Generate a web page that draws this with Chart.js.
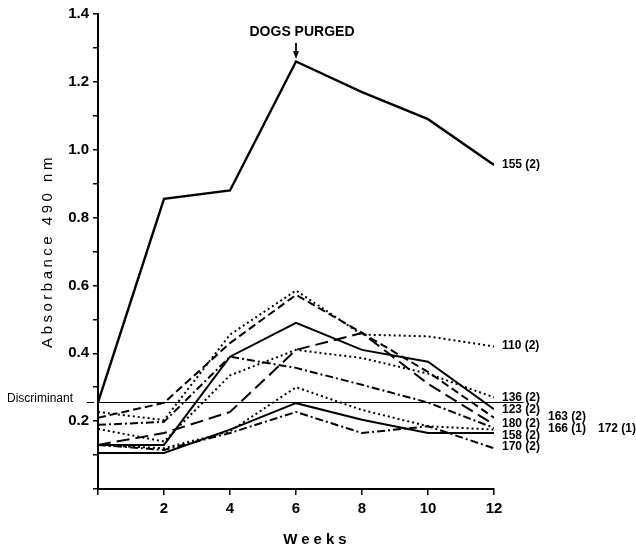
<!DOCTYPE html>
<html>
<head>
<meta charset="utf-8">
<script src="https://cdn.jsdelivr.net/npm/chart.js@4"></script>
<style>
  body { margin: 0; background: #fff; }
  #wrap { width: 636px; height: 551px; }
</style>
</head>
<body>
<div id="wrap"><canvas id="myChart" width="636" height="551"></canvas></div>
<script>
// weeks after infection
var weeks = [0, 2, 4, 6, 8, 10, 12];
var xTickLabels = ['2', '4', '6', '8', '10', '12'];
var yTickLabels = ['0.2', '0.4', '0.6', '0.8', '1.0', '1.2', '1.4'];

// absorbance 490 nm per dog
var dog155 = [0.255, 0.855, 0.88, 1.26, 1.17, 1.09, 0.955];
var dog110 = [0.227, 0.203, 0.455, 0.585, 0.455, 0.45, 0.42];
var dog136 = [0.177, 0.14, 0.335, 0.41, 0.386, 0.34, 0.27];
var dog163 = [0.21, 0.254, 0.43, 0.572, 0.46, 0.345, 0.21];
var dog123 = [0.13, 0.13, 0.39, 0.49, 0.41, 0.375, 0.235];
var dog180 = [0.13, 0.165, 0.227, 0.41, 0.46, 0.31, 0.19];
var dog166 = [0.189, 0.198, 0.39, 0.357, 0.307, 0.255, 0.18];
var dog172 = [0.13, 0.12, 0.17, 0.30, 0.233, 0.185, 0.175];
var dog158 = [0.106, 0.106, 0.175, 0.253, 0.204, 0.165, 0.165];
var dog170 = [0.13, 0.115, 0.165, 0.227, 0.165, 0.185, 0.12];

var discriminant = 0.257;

var FONT = "'Liberation Sans', Arial, Helvetica, sans-serif";
var SOLID = [], DOT = [2, 3], DASH = [8, 4], LONGDASH = [13, 6], DASHDOT = [8, 3, 2, 3];

function series(values, dash, width) {
    return {
        data: values.map(function(v, i) { return { x: weeks[i], y: v }; }),
        borderColor: '#000',
        borderWidth: width || 2,
        borderDash: dash,
        pointRadius: 0,
        tension: 0,
        fill: false
    };
}

// right hand labels: text, value it sits at, column
var endLabels = [
    ['155 (2)', 0.955, 0],
    ['110 (2)', 0.422, 0],
    ['136 (2)', 0.268, 0],
    ['123 (2)', 0.233, 0],
    ['180 (2)', 0.192, 0],
    ['158 (2)', 0.156, 0],
    ['170 (2)', 0.124, 0],
    ['163 (2)', 0.212, 1],
    ['166 (1)', 0.177, 1],
    ['172 (1)', 0.177, 2]
];
var colOffset = [8, 54, 104];

var extras = {
    id: 'extras',
    afterDraw: function(chart) {
        var c = chart.ctx, xs = chart.scales.x, ys = chart.scales.y;
        c.save();
        c.fillStyle = '#000';
        c.strokeStyle = '#000';

        // discriminant line
        var dy = Math.round(ys.getPixelForValue(discriminant)) + 0.5;
        c.lineWidth = 1.2;
        c.beginPath();
        c.moveTo(xs.getPixelForValue(0), dy);
        c.lineTo(xs.getPixelForValue(12.9), dy);
        c.moveTo(87, dy);
        c.lineTo(94, dy);
        c.stroke();
        c.font = '12px ' + FONT;
        c.textAlign = 'left';
        c.textBaseline = 'alphabetic';
        c.fillText('Discriminant', 7, dy - 1);

        // end labels
        c.font = 'bold 12px ' + FONT;
        c.textBaseline = 'middle';
        endLabels.forEach(function(l) {
            c.fillText(l[0], xs.right + colOffset[l[2]], ys.getPixelForValue(l[1]));
        });

        // purge annotation
        var px = xs.getPixelForValue(6);
        c.font = 'bold 14px ' + FONT;
        c.textAlign = 'center';
        c.fillText('DOGS PURGED', px + 6, 32);
        c.lineWidth = 1.8;
        c.beginPath();
        c.moveTo(px, 43);
        c.lineTo(px, 56);
        c.stroke();
        c.beginPath();
        c.moveTo(px - 3, 51);
        c.lineTo(px + 3, 51);
        c.lineTo(px, 59);
        c.closePath();
        c.fill();

        // axis titles
        c.letterSpacing = '4px';
        c.font = 'bold 15px ' + FONT;
        c.fillText('Weeks', 317, 540);
        c.letterSpacing = '3.5px';
        c.font = '15px ' + FONT;
        c.translate(48, 251);
        c.rotate(-Math.PI / 2);
        c.fillText('Absorbance 490 nm', 0, 0);
        c.restore();
    }
};

var ctx = document.getElementById('myChart').getContext('2d');
var myChart = new Chart(ctx, {
    type: 'line',
    data: {
        datasets: [
            series(dog155, SOLID, 2.4),
            series(dog110, DOT),
            series(dog136, DOT),
            series(dog163, DASH),
            series(dog123, SOLID),
            series(dog180, LONGDASH),
            series(dog166, DASHDOT),
            series(dog172, DOT),
            series(dog158, SOLID),
            series(dog170, DASHDOT)
        ]
    },
    options: {
        responsive: false,
        animation: false,
        layout: { padding: { top: 14, right: 142, left: 0, bottom: 0 } },
        plugins: {
            legend: { display: false },
            tooltip: { enabled: false }
        },
        scales: {
            x: {
                type: 'linear',
                min: 0,
                max: 12,
                afterFit: function(s) { s.height = 62; },
                border: { display: true, color: '#000', width: 2 },
                grid: { drawOnChartArea: false, drawTicks: true, tickLength: 6, color: '#000', lineWidth: 1.5 },
                ticks: {
                    stepSize: 2,
                    autoSkip: false,
                    padding: 5,
                    color: '#000',
                    font: { family: FONT, size: 15, weight: 'bold' },
                    maxRotation: 0,
                    callback: function(value) {
                        return xTickLabels.indexOf(String(value)) >= 0 ? String(value) : '';
                    }
                }
            },
            y: {
                min: 0,
                max: 1.4,
                afterFit: function(s) { s.width = 98; },
                border: { display: true, color: '#000', width: 2 },
                grid: { drawOnChartArea: false, drawTicks: true, tickLength: 5, color: '#000', lineWidth: 1.5 },
                ticks: {
                    stepSize: 0.1,
                    autoSkip: false,
                    padding: 4,
                    color: '#000',
                    font: { family: FONT, size: 15, weight: 'bold' },
                    callback: function(value) {
                        var t = value.toFixed(1);
                        return yTickLabels.indexOf(t) >= 0 ? t : '';
                    }
                }
            }
        }
    },
    plugins: [extras]
});
</script>
</body>
</html>
